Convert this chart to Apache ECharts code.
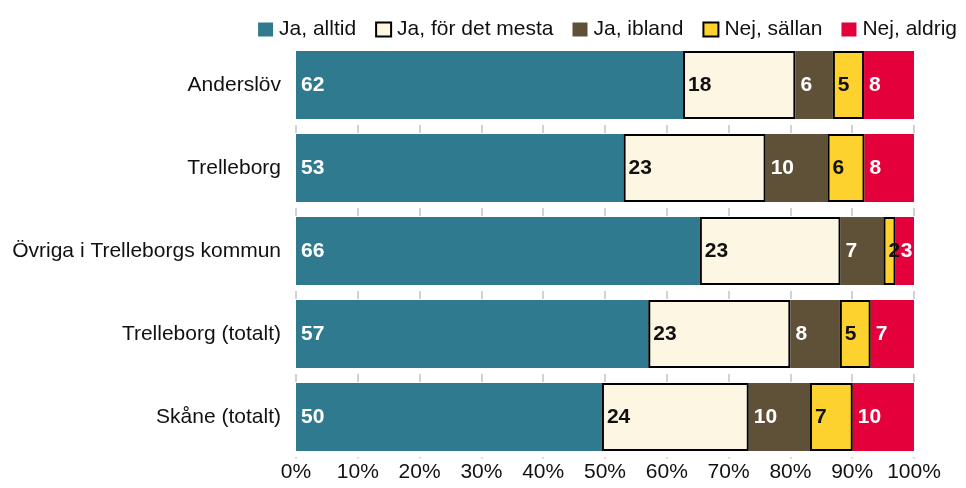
<!DOCTYPE html>
<html>
<head>
<meta charset="utf-8">
<script src="https://cdn.jsdelivr.net/npm/echarts@6/dist/echarts.min.js"></script>
<style>html,body{margin:0;padding:0;background:#fff;}#c{width:966px;height:488px;}</style>
</head>
<body>
<div id="c"></div>
<script>
var categories = ['Anderslöv', 'Trelleborg', 'Övriga i Trelleborgs kommun', 'Trelleborg (totalt)', 'Skåne (totalt)'];
var seriesNames = ['Ja, alltid', 'Ja, för det mesta', 'Ja, ibland', 'Nej, sällan', 'Nej, aldrig'];
var jaAlltid   = [62, 53, 66, 57, 50];
var jaMesta    = [18, 23, 23, 23, 24];
var jaIbland   = [6, 10, 7, 8, 10];
var nejSallan  = [5, 6, 2, 5, 7];
var nejAldrig  = [8, 8, 3, 7, 10];
var xTicks = [0, 10, 20, 30, 40, 50, 60, 70, 80, 90, 100];

var FONT = 'Liberation Sans, Arial, sans-serif';
var raw = [jaAlltid, jaMesta, jaIbland, nejSallan, nejAldrig];
var totals = categories.map(function (c, i) {
  return raw.reduce(function (s, arr) { return s + arr[i]; }, 0);
});
var styles = [
  { color: '#2f7a8e', label: '#ffffff' },
  { color: '#fcf6e3', label: '#111111', border: true },
  { color: '#5e5137', label: '#ffffff' },
  { color: '#fdd22e', label: '#111111', border: true },
  { color: '#e4003a', label: '#ffffff' }
];

var series = raw.map(function (arr, k) {
  var st = styles[k];
  return {
    name: seriesNames[k],
    type: 'bar',
    stack: 'total',
    barCategoryGap: '18%',
    z: 3,
    itemStyle: {
      color: st.color,
      borderColor: st.border ? '#000' : st.color,
      borderWidth: st.border ? 2 : 0
    },
    label: {
      show: true,
      position: 'insideLeft',
      distance: 5,
      color: st.label,
      fontFamily: FONT,
      fontWeight: 'bold',
      fontSize: 21,
      formatter: function (p) { return arr[p.dataIndex]; }
    },
    data: arr.map(function (v, i) { return v / totals[i] * 100; })
  };
});

var chart = echarts.init(document.getElementById('c'));
chart.setOption({
  animation: false,
  textStyle: { fontFamily: FONT },
  legend: {
    right: 4,
    top: 14,
    icon: 'rect',
    itemWidth: 15,
    itemHeight: 14,
    itemGap: 19,
    textStyle: { fontSize: 21, color: '#111', fontFamily: FONT, padding: [0, 0, 0, 1] },
    data: seriesNames
  },
  grid: { left: 296, right: 52, top: 43.5, height: 415, containLabel: false },
  xAxis: {
    type: 'value',
    min: 0,
    max: 100,
    interval: 10,
    axisLine: { show: false },
    axisTick: { show: false },
    splitLine: { show: true, lineStyle: { color: '#c4c4c4', width: 1.5, type: [8, 75], dashOffset: 1.5 } },
    axisLabel: {
      fontSize: 21,
      color: '#111',
      margin: 3,
      formatter: function (v) { return xTicks.indexOf(v) >= 0 ? v + '%' : ''; }
    }
  },
  yAxis: {
    type: 'category',
    inverse: true,
    data: categories,
    axisLine: { show: false },
    axisTick: { show: false },
    axisLabel: { fontSize: 21, color: '#111', margin: 15 }
  },
  graphic: [{
    type: 'rect',
    z: 100,
    silent: true,
    shape: { x: 290, y: 40, width: 630, height: 10.5 },
    style: { fill: '#ffffff' }
  }],
  series: series
});
</script>
</body>
</html>
